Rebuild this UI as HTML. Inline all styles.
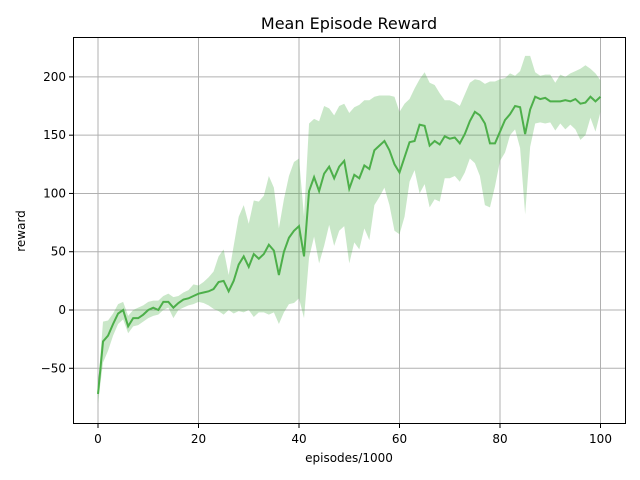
<!DOCTYPE html>
<html><head><meta charset="utf-8"><style>
html,body{margin:0;padding:0;background:#fff;}
svg{display:block;font-family:"DejaVu Sans","Liberation Sans",sans-serif;}
</style></head><body>
<svg id="chart" width="640" height="480">
<rect width="640" height="480" fill="#fff"/>
<text x="349" y="29" font-size="16" text-anchor="middle">Mean Episode Reward</text>
<g id="grid"></g>
<path id="band" fill="#4daf4a" fill-opacity="0.3" stroke="none"/>
<path id="line" fill="none" stroke="#4daf4a" stroke-width="2"/>
<rect x="73.5" y="37.5" width="552" height="386" fill="none" stroke="#000" stroke-width="1"/>
<g id="ticks" font-size="12"></g>
<text x="349" y="462" font-size="12" text-anchor="middle">episodes/1000</text>
<text x="25" y="231" font-size="12" text-anchor="middle" transform="rotate(-90 25 231)">reward</text>
</svg>
<script>
const meanReward=[-72,-27,-22,-12,-3,0,-14,-7,-7,-4,0,2,0,7,7,2,6,9,10,12,14,15,16,18,24,25,16,25,39,46,37,48,44,48,56,51,30,50,62,68,72,46,102,114,102,117,123,113,123,128,104,116,113,124,121,137,141,145,137,125,118,131,144,145,159,158,141,145,142,149,147,148,143,151,162,170,167,160,143,143,153,163,168,175,174,151,172,183,181,182,179,179,179,180,179,181,177,178,183,179,183];
const upperReward=[-65,-10,-9,-3,5,7,-5,0,2,4,7,8,8,12,14,11,12,15,17,22,21,24,28,33,46,52,30,55,80,90,74,94,93,98,115,105,70,95,115,127,130,80,160,164,162,175,173,167,175,177,169,174,176,180,180,183,184,184,184,183,170,177,181,190,198,204,195,193,186,180,180,178,175,185,195,198,197,194,196,196,198,199,203,201,205,218,218,204,201,202,202,195,202,200,203,205,207,210,207,203,197];
const lowerReward=[-80,-45,-35,-22,-12,-8,-20,-14,-13,-10,-7,-5,-4,0,2,-7,0,2,4,5,7,6,4,1,-1,-4,0,-3,-1,-2,0,-6,-2,-2,-4,-2,-12,-2,5,6,10,-7,45,63,40,55,73,55,68,72,40,58,52,70,60,90,97,105,90,68,65,80,110,120,100,108,88,95,93,113,113,115,110,118,130,126,115,90,88,106,128,135,150,155,139,82,140,160,161,160,161,154,160,155,159,155,146,150,165,153,170];
const xTicks=[0,20,40,60,80,100];
const yTicks=[-50,0,50,100,150,200];

const X=v=>98+v*5.025;
const Y=v=>310-v*1.1655;
const ns="http://www.w3.org/2000/svg";
const grid=document.getElementById('grid'), ticks=document.getElementById('ticks');
function mk(tag,attrs,parent){const e=document.createElementNS(ns,tag);for(const k in attrs)e.setAttribute(k,attrs[k]);parent.appendChild(e);return e;}
xTicks.forEach(t=>{
  const x=X(t);
  const g=mk('line',{x1:x,x2:x,y1:38,y2:424,stroke:'#b0b0b0','stroke-width':1},grid);
  
  
  mk('line',{x1:x,x2:x,y1:424,y2:428,stroke:'#000'},ticks);
  const tx=mk('text',{x:x,y:443,'text-anchor':'middle'},ticks);
  tx.textContent=t;
  
  
});
yTicks.forEach(t=>{
  const y=Y(t);
  const g=mk('line',{x1:73,x2:625,y1:y,y2:y,stroke:'#b0b0b0','stroke-width':1},grid);
  
  
  mk('line',{x1:69,x2:73,y1:y,y2:y,stroke:'#000'},ticks);
  const tx=mk('text',{x:66,y:y+4,'text-anchor':'end'},ticks);
  tx.textContent=t<0?'\u2212'+(-t):t;
  
  
});
let d='';
upperReward.forEach((v,i)=>{d+=(i?'L':'M')+X(i)+','+Y(v);});
for(let i=lowerReward.length-1;i>=0;i--)d+='L'+X(i)+','+Y(lowerReward[i]);
document.getElementById('band').setAttribute('d',d+'Z');
document.getElementById('line').setAttribute('d',meanReward.map((v,i)=>(i?'L':'M')+X(i)+','+Y(v)).join(''));
</script>
</body></html>
